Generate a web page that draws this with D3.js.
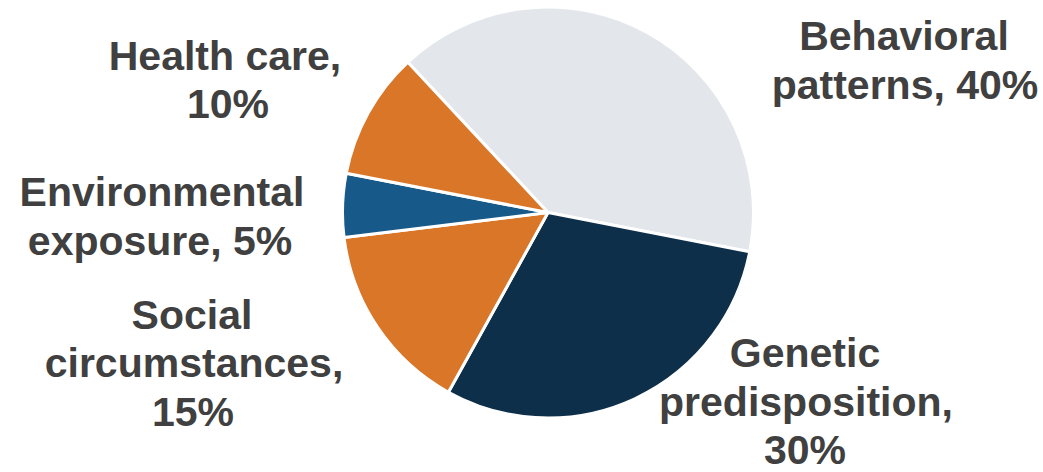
<!DOCTYPE html>
<html>
<head>
<meta charset="utf-8">
<script src="https://cdn.jsdelivr.net/npm/d3@7"></script>
<style>
  html, body { margin: 0; padding: 0; background: #ffffff; }
  svg { display: block; }
</style>
</head>
<body>
<svg id="chart" width="1043" height="472"></svg>
<script>
// ---- data ----
const categories = ["Behavioral patterns", "Genetic predisposition", "Social circumstances", "Environmental exposure", "Health care"];
const values = [40, 30, 15, 5, 10];
const colors = ["#E3E7EB", "#0D2F4A", "#D97628", "#175A8A", "#D97628"];
const labelLines = [
  ["Behavioral", "patterns, 40%"],
  ["Genetic", "predisposition,", "30%"],
  ["Social", "circumstances,", "15%"],
  ["Environmental", "exposure, 5%"],
  ["Health care,", "10%"]
];

// ---- layout ----
const W = 1043, H = 472;
const cx = 548, cy = 212.5, R = 205.5;
const startDeg = -43;
const lineH = 48.5;
// label anchor: center x of each line, first baseline
const labelLayout = [
  { xs: [904, 905], y: 50 },
  { xs: [805, 806, 805], y: 367 },
  { xs: [192, 194, 193], y: 328.5 },
  { xs: [162, 160], y: 206 },
  { xs: [225, 228], y: 69.5 }
];

const svg = d3.select("#chart");

const pie = d3.pie()
  .sort(null)
  .value(d => d)
  .startAngle(startDeg * Math.PI / 180)
  .endAngle((startDeg + 360) * Math.PI / 180);

const arc = d3.arc().innerRadius(0).outerRadius(R);

const g = svg.append("g").attr("transform", `translate(${cx},${cy})`);

g.selectAll("path")
  .data(pie(values))
  .join("path")
  .attr("d", arc)
  .attr("fill", (d, i) => colors[i])
  .attr("stroke", "#ffffff")
  .attr("stroke-width", 3)
  .attr("stroke-linejoin", "round");

const labels = svg.append("g")
  .attr("font-family", "'Liberation Sans', Arial, sans-serif")
  .attr("font-weight", "bold")
  .attr("font-size", 41)
  .attr("fill", "#404040")
  .attr("text-anchor", "middle");

labelLines.forEach((lines, i) => {
  const lay = labelLayout[i];
  const t = labels.append("text");
  lines.forEach((ln, j) => {
    t.append("tspan")
      .attr("x", lay.xs[j])
      .attr("y", lay.y + j * lineH)
      .text(ln);
  });
});
</script>
</body>
</html>
